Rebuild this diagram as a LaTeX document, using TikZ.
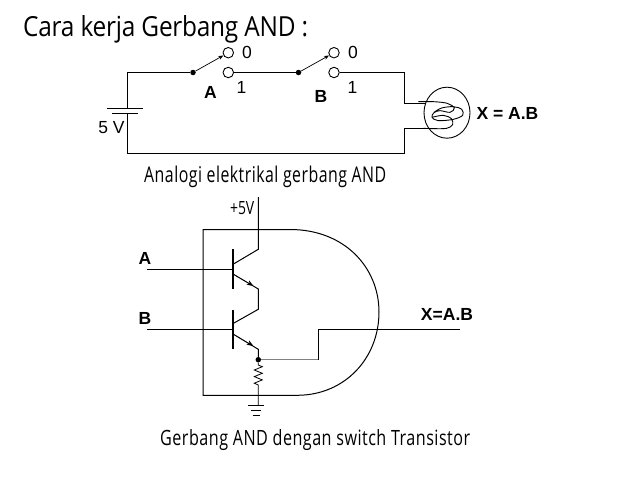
\documentclass[tikz,border=0pt]{standalone}
\usepackage{fontspec}
\setmainfont{Liberation Sans}
\newfontfamily\capfont[LetterSpace=3]{Open Sans}
\newfontfamily\titlefont[LetterSpace=-1]{Open Sans}
\usetikzlibrary{arrows.meta,shapes.geometric}
\tikzset{
  wire/.style={line width=1pt,line join=miter},
  term/.style={circle,draw,fill=white,line width=0.9pt,minimum size=10.5pt,inner sep=0pt},
  blob/.style={circle,fill=black,minimum size=5.5pt,inner sep=0pt},
  sw/.style={line width=0.7pt,-{Stealth[length=5pt,width=4pt]}},
  elabel/.style={font=\fontsize{17.5}{18}\selectfont,inner sep=0pt},
  blabel/.style={font=\fontsize{17.5}{18}\selectfont\bfseries,inner sep=0pt},
  captext/.style={inner sep=0pt,anchor=base west},
  basebar/.style={line width=2.6pt}
}
\begin{document}
\begin{tikzpicture}[x=1pt,y=-1pt]
\useasboundingbox (0,0) rectangle (638,479);
% title
\node[captext] (title) at (23,36.5) {\resizebox{285pt}{21pt}{\titlefont Cara kerja Gerbang AND :}};
% circuit 1 coordinates
\coordinate (c1tl) at (127,72.5);
\coordinate (bat1) at (127,108.3);
\coordinate (bat2) at (127,113.3);
\coordinate (p1l) at (107,108.3);
\coordinate (p1r) at (143,108.3);
\coordinate (p2l) at (112,113.3);
\coordinate (p2r) at (138,113.3);
\coordinate (c1bl) at (127,153.3);
\coordinate (c1br) at (404.5,153.3);
\coordinate (c1tr) at (404.5,72.5);
\coordinate (lampt) at (404.5,103);
\coordinate (lampb) at (404.5,128.3);
\coordinate (lamptin) at (425,103);
\coordinate (lampbin) at (425,128.3);
\node[blob] (sa) at (193,72.5) {};
\node[blob] (sb) at (298.5,72.5) {};
\node[term] (a0) at (228.3,52.7) {};
\node[term] (a1) at (228.3,72.5) {};
\node[term] (b0) at (334,52.7) {};
\node[term] (b1) at (334,72.5) {};
\draw[wire] (bat1) -- (c1tl) -- (sa);
\draw[wire] (a1) -- (sb);
\draw[wire] (b1) -- (c1tr) -- (lampt) -- (lamptin);
\draw[wire] (bat2) -- (c1bl) -- (c1br) -- (lampb) -- (lampbin);
\draw[wire] (p1l) -- (p1r);
\draw[wire] (p2l) -- (p2r);
\draw[sw] (sa) -- (a0);
\draw[sw] (sb) -- (b0);
\node[elabel] (l5v) at (111.5,128) {5 V};
\node[elabel] (la0) at (247,52) {0};
\node[elabel] (la1) at (241.5,87) {1};
\node[elabel] (lb0) at (353,52) {0};
\node[elabel] (lb1) at (352.5,87) {1};
\node[blabel] (la) at (210.5,92) {A};
\node[blabel] (lb) at (321,96.5) {B};
\node[blabel] (lx) at (507.5,113) {X = A.B};
% lamp
\node[draw,ellipse,line width=0.9pt,minimum width=46pt,minimum height=51pt,inner sep=0pt] (lamp) at (447,112.7) {};
\begin{scope}[shift={(410,80)},x=0.3333pt,y=-0.3333pt]
\draw[line width=0.9pt] plot[smooth,tension=0.55] coordinates {(25,65) (70,65) (112,70) (133,84) (120,97) (90,92) (72,98) (66,112) (85,122) (130,118) (158,106) (155,88) (130,80) (95,84) (72,97)};
\draw[line width=0.9pt] plot[smooth,tension=0.55] coordinates {(66,112) (100,106) (124,116) (128,134) (110,145) (70,146) (40,145)};
\end{scope}
\node[captext] (cap1) at (144,182.7) {\resizebox{242pt}{16.5pt}{\capfont Analogi elektrikal gerbang AND}};
% circuit 2
\coordinate (rtl) at (203,229.5);
\coordinate (rbl) at (203,395.3);
\coordinate (rtm) at (290,229.5);
\coordinate (rbm) at (297,395.3);
\coordinate (rr) at (379,312);
\draw[wire] (rtm) -- (rtl) -- (rbl) -- (rbm) .. controls (345,395.3) and (379,358) .. (rr) .. controls (379,268) and (345,229.5) .. (rtm);
\coordinate (vcc) at (258.3,197);
\coordinate (c1) at (258.3,249.3);
\coordinate (b1j) at (233.5,264);
\coordinate (e1j) at (233.5,274.3);
\coordinate (e1) at (258.3,289);
\coordinate (c2) at (258.3,309.3);
\coordinate (b2j) at (233.5,323.3);
\coordinate (e2j) at (233.5,334.3);
\coordinate (e2) at (258.3,349.3);
\node[blob] (out) at (258.3,359.7) {};
\coordinate (inA) at (147,269.3);
\coordinate (inB) at (147,329.3);
\coordinate (barA) at (233,269.3);
\coordinate (barB) at (233,329.3);
\draw[wire] (vcc) -- (c1) -- (b1j);
\draw[basebar] (233,249) -- (233,289);
\draw[basebar] (233,310) -- (233,349.3);
\draw[wire] (inA) -- (barA);
\draw[wire] (inB) -- (barB);
\draw[wire] (e1j) -- (e1) -- (c2) -- (b2j);
\draw[wire] (e2j) -- (e2) -- (out);
\draw[line width=0.1pt,-{Stealth[length=6pt,width=5pt]}] (e1j) -- (253,285.6);
\draw[line width=0.1pt,-{Stealth[length=6pt,width=5pt]}] (e2j) -- (253,345.6);
\coordinate (o1) at (318.5,359.7);
\coordinate (o2) at (318.5,329.3);
\coordinate (o3) at (460,329.3);
\draw[line width=1.1pt,gray] (out) -- (o1);
\draw[wire] (o1) -- (o2) -- (o3);
\coordinate (r1) at (258.3,365);
\coordinate (r2) at (258.3,385);
\coordinate (gnd) at (258.3,405);
\draw[line width=0.8pt] (out) -- (r1) -- ++(4,1.7) -- ++(-8,3.3) -- ++(8,3.3) -- ++(-8,3.3) -- ++(8,3.3) -- ++(-8,3.3) -- (r2) -- (gnd);
\draw[wire] (248,405) -- (263.5,405);
\draw[wire] (251,410) -- (261,410);
\draw[wire] (252.5,415) -- (260,415);
\node[captext] (l5) at (230,214.5) {\resizebox{24pt}{13pt}{\titlefont +5V}};
\node[blabel] (lA) at (145,258) {A};
\node[blabel] (lB) at (145,318) {B};
\node[blabel] (lX) at (447,314) {X=A.B};
\node[captext] (cap2) at (160,445) {\resizebox{310pt}{16pt}{\capfont Gerbang AND dengan switch Transistor}};
\end{tikzpicture}
\end{document}
